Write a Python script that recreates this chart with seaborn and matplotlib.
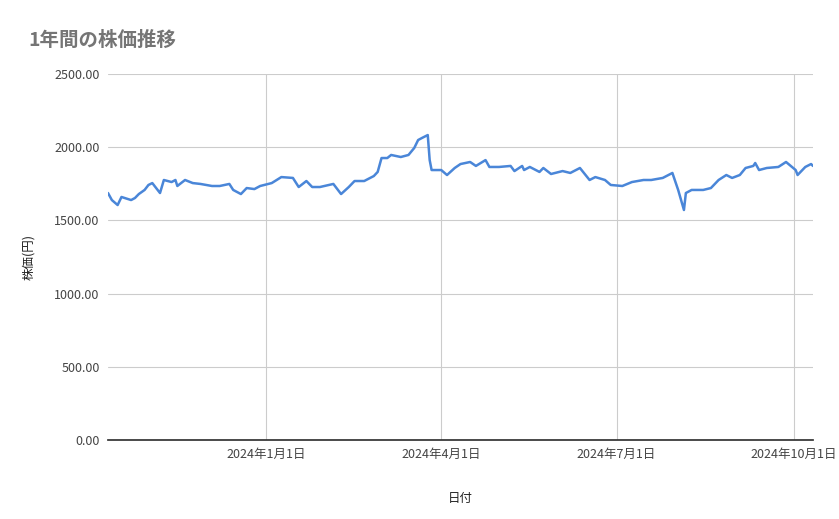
import matplotlib
matplotlib.use("Agg")
import matplotlib.pyplot as plt
import matplotlib.dates as mdates
import matplotlib.ticker as mticker
import seaborn as sns
import pandas as pd

dates = ["2023-10-11","2023-10-13","2023-10-16","2023-10-18","2023-10-23","2023-10-25","2023-10-27","2023-10-30",
"2023-11-01","2023-11-03","2023-11-07","2023-11-09","2023-11-13","2023-11-15","2023-11-16","2023-11-20","2023-11-24",
"2023-11-28","2023-12-04","2023-12-08","2023-12-13","2023-12-15","2023-12-19","2023-12-22","2023-12-26","2023-12-29",
"2024-01-04","2024-01-09","2024-01-15","2024-01-18","2024-01-22","2024-01-25","2024-01-29","2024-02-05","2024-02-09",
"2024-02-13","2024-02-16","2024-02-21","2024-02-26","2024-02-28","2024-03-01","2024-03-04","2024-03-06","2024-03-11",
"2024-03-15","2024-03-18","2024-03-20","2024-03-22","2024-03-25","2024-03-26","2024-03-27","2024-04-01","2024-04-04",
"2024-04-08","2024-04-11","2024-04-16","2024-04-19","2024-04-24","2024-04-26","2024-05-01","2024-05-07","2024-05-09",
"2024-05-13","2024-05-14","2024-05-17","2024-05-22","2024-05-24","2024-05-28","2024-06-03","2024-06-07","2024-06-12",
"2024-06-17","2024-06-20","2024-06-25","2024-06-28","2024-07-04","2024-07-09","2024-07-15","2024-07-19","2024-07-25",
"2024-07-30","2024-08-02","2024-08-05","2024-08-06","2024-08-09","2024-08-15","2024-08-19","2024-08-23","2024-08-27",
"2024-08-30","2024-09-03","2024-09-06","2024-09-10","2024-09-11","2024-09-13","2024-09-17","2024-09-23","2024-09-27",
"2024-10-02","2024-10-03","2024-10-07","2024-10-10","2024-10-11"]
prices = [1687,1639,1605,1660,1639,1653,1680,1708,1742,1755,1687,1776,1762,1776,1735,1776,1755,1749,1735,1735,1749,1708,
1680,1721,1714,1735,1755,1796,1790,1728,1769,1728,1728,1749,1680,1728,1769,1769,1803,1831,1926,1926,1947,1933,1947,
1995,2049,2063,2083,1912,1844,1844,1810,1858,1885,1899,1872,1912,1865,1865,1872,1837,1872,1844,1865,1831,1858,1817,
1837,1824,1858,1776,1796,1776,1742,1735,1762,1776,1776,1790,1824,1708,1571,1687,1708,1708,1721,1776,1810,1790,1810,
1858,1872,1892,1844,1858,1865,1899,1844,1810,1865,1885,1872]

df = pd.DataFrame({"date": pd.to_datetime(dates), "price": prices})

sns.set_theme(style="white")
plt.rcParams['font.family'] = ['Noto Sans CJK JP', 'DejaVu Sans']

fig = plt.figure(figsize=(8.39, 5.19), dpi=100)
ax = fig.add_axes([108/839, 1-440/519, (813-108)/839, (440-74)/519])
sns.lineplot(data=df, x="date", y="price", ax=ax, color="#4a86d8", linewidth=1.8)

ax.set_xlim(pd.Timestamp("2023-10-11"), pd.Timestamp("2024-10-11"))
ax.set_ylim(0, 2500)
ax.yaxis.set_major_locator(mticker.MultipleLocator(500))
ax.yaxis.set_major_formatter(mticker.FuncFormatter(lambda v, p: f"{v:.2f}"))
ticks = pd.to_datetime(["2024-01-01", "2024-04-01", "2024-07-01", "2024-10-01"])
ax.set_xticks(ticks)
ax.set_xticklabels([f"{t.year}年{t.month}月{t.day}日" for t in ticks])
ax.grid(True, color="#cccccc", linewidth=0.8)
for s in ["top", "right", "left"]:
    ax.spines[s].set_visible(False)
ax.spines["bottom"].set_color("#333333")
ax.tick_params(axis="both", length=0, labelsize=9, colors="#444444", pad=6)
ax.set_xlabel("日付", fontsize=9, color="#222222", labelpad=22)
ax.set_ylabel("株価(円)", fontsize=9, color="#222222", labelpad=14)
fig.text(28/839, 1-40/519, "1年間の株価推移", fontsize=14, color="#757575", fontweight="bold", va="center")

fig.savefig("out.png", dpi=100)
